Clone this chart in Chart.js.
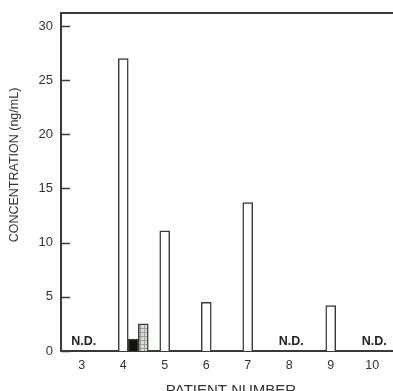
<!DOCTYPE html>
<html>
<head>
<meta charset="utf-8">
<script src="https://cdn.jsdelivr.net/npm/chart.js@4/dist/chart.umd.min.js"></script>
<style>
  html, body { margin: 0; padding: 0; background: #fff; }
  #wrap { width: 393px; height: 391px; }
</style>
</head>
<body>
<div id="wrap"><canvas id="chart"></canvas></div>
<script>
// Data: patient numbers and concentrations (ng/mL)
const patients = ['3', '4', '5', '6', '7', '8', '9', '10'];
const openBars = [null, 27, 11.1, 4.5, 13.7, null, 4.2, null];
const solidBars = [null, 1.1, null, null, null, null, null, null];
const hatchBars = [null, 2.5, null, null, null, null, null, null];
const notDetected = ['3', '8', '10'];
const yTicks = [0, 5, 10, 15, 20, 25, 30];
const xTitle = 'PATIENT NUMBER';
const yTitle = 'CONCENTRATION (ng/mL)';

const INK = '#3a3a3a';
const TXT = '#333333';
const FONT = "'Liberation Sans', Arial, sans-serif";

function hatchPattern() {
  const c = document.createElement('canvas');
  c.width = 4; c.height = 4;
  const g = c.getContext('2d');
  g.fillStyle = '#d7ddd7';
  g.fillRect(0, 0, 4, 4);
  g.fillStyle = '#9aa39a';
  g.fillRect(0, 0, 4, 1);
  g.fillRect(0, 0, 1, 4);
  return g.createPattern(c, 'repeat');
}

// frame top line, inward y ticks, N.D. labels, axis titles
const decor = {
  id: 'decor',
  afterDraw(chart) {
    const { ctx, chartArea: a, scales: { x, y } } = chart;
    ctx.save();
    ctx.strokeStyle = INK;
    ctx.lineWidth = 2;
    ctx.beginPath();
    ctx.moveTo(a.left - 1, a.top);
    ctx.lineTo(a.right, a.top);
    ctx.stroke();
    ctx.lineWidth = 1.5;
    yTicks.forEach(v => {
      const py = Math.round(y.getPixelForValue(v)) + 0.5;
      ctx.beginPath();
      ctx.moveTo(a.left, py);
      ctx.lineTo(a.left + 9, py);
      ctx.stroke();
    });
    ctx.fillStyle = '#222';
    ctx.font = 'bold 12.5px ' + FONT;
    ctx.textAlign = 'center';
    ctx.textBaseline = 'alphabetic';
    notDetected.forEach(p => {
      const px = x.getPixelForValue(patients.indexOf(p));
      ctx.fillText('N.D.', px + 2, y.getPixelForValue(0) - 6);
    });

    ctx.fillStyle = TXT;
    ctx.font = '15px ' + FONT;
    ctx.fillText(xTitle, (a.left + a.right) / 2 + 4, a.bottom + 44);

    ctx.translate(a.left - 46, (a.top + a.bottom) / 2 - 17);
    ctx.rotate(-Math.PI / 2);
    ctx.font = '12.5px ' + FONT;
    ctx.textBaseline = 'middle';
    ctx.fillText(yTitle, 0, 0);
    ctx.restore();
  }
};

const barBase = { borderColor: INK, borderWidth: 1.5, borderSkipped: 'bottom', barThickness: 10 };
const spacer = patients.map(() => null);

new Chart(document.getElementById('chart'), {
  type: 'bar',
  data: {
    labels: patients,
    datasets: [
      { ...barBase, label: 'sp1', data: spacer },
      { ...barBase, label: 'sp2', data: spacer },
      { ...barBase, label: 'Open', data: openBars, backgroundColor: '#ffffff' },
      { ...barBase, label: 'Solid', data: solidBars, backgroundColor: '#111111' },
      { ...barBase, label: 'Hatched', data: hatchBars, backgroundColor: hatchPattern() },
    ]
  },
  options: {
    responsive: true,
    maintainAspectRatio: false,
    animation: false,
    layout: { padding: { top: 13, right: 0, left: 0, bottom: 0 } },
    plugins: { legend: { display: false }, tooltip: { enabled: false } },
    scales: {
      x: {
        grid: { display: false, drawTicks: false },
        border: { display: true, color: INK, width: 2 },
        ticks: { color: TXT, font: { family: FONT, size: 12.5 }, padding: 7, maxRotation: 0 },
        afterFit: s => { s.height = 40; }
      },
      y: {
        min: 0,
        max: 31.2,
        grid: { display: false, drawTicks: false },
        border: { display: true, color: INK, width: 2 },
        ticks: { stepSize: 5, includeBounds: false, color: TXT, font: { family: FONT, size: 13, lineHeight: 1 }, padding: 8 },
        afterFit: s => { s.width = 61; s.paddingTop = 0; s.paddingBottom = 0; }
      }
    }
  },
  plugins: [decor]
});
</script>
</body>
</html>
